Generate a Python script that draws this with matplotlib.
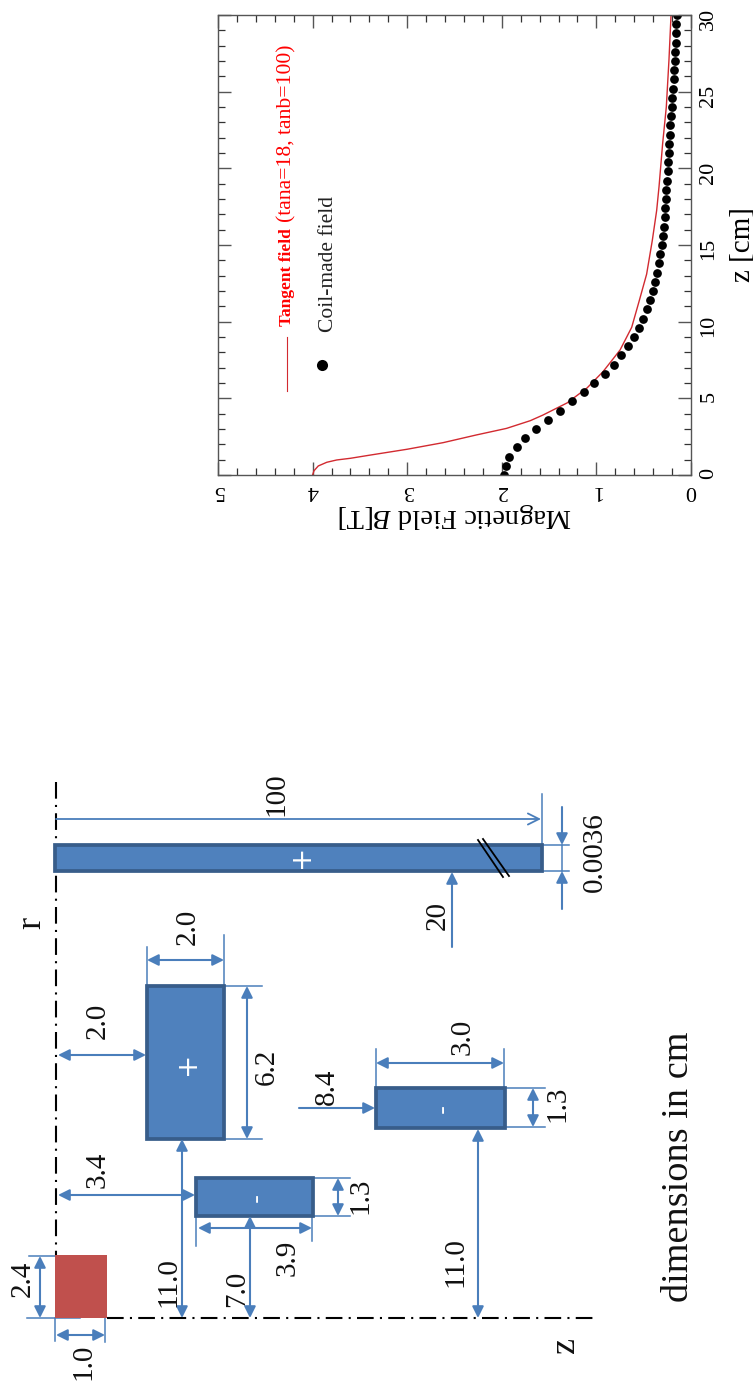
import matplotlib
matplotlib.use('Agg')
import matplotlib.pyplot as plt
from matplotlib.patches import Rectangle

plt.rcParams['font.family'] = ['Liberation Serif', 'DejaVu Serif']
plt.rcParams['mathtext.fontset'] = 'custom'
plt.rcParams['mathtext.it'] = 'Liberation Serif:italic'
plt.rcParams['mathtext.rm'] = 'Liberation Serif'

# field curves
tangent_z = [0, 0.28, 0.59, 0.83, 0.98, 1.09, 1.3, 1.68, 2.11, 2.61, 3.04, 3.54, 3.91, 4.7, 5.67, 6.74, 8.15, 9.63,
             11.3, 13.1, 15.3, 17.25, 18.8, 21.6, 24.0, 27.06, 30]
tangent_b = [4.0, 3.985, 3.94, 3.85, 3.745, 3.6, 3.39, 3.0, 2.62, 2.27, 1.95, 1.70, 1.565, 1.31, 1.10, 0.93, 0.75, 0.627,
             0.55, 0.469, 0.409, 0.363, 0.338, 0.30, 0.261, 0.233, 0.211]
coil_z = [0.0, 0.6, 1.2, 1.8, 2.4, 3.0, 3.6, 4.2, 4.8, 5.4, 6.0, 6.6, 7.2, 7.8, 8.4, 9.0, 9.6,
          10.2, 10.8, 11.4, 12.0, 12.6, 13.2, 13.8, 14.4, 15.0, 15.6, 16.2, 16.8, 17.4, 18.0, 18.6,
          19.2, 19.8, 20.4, 21.0, 21.6, 22.2, 22.8, 23.4, 24.0, 24.6, 25.2, 25.8, 26.4, 27.0, 27.6,
          28.2, 28.8, 29.4, 30.0]
coil_b = [1.98, 1.96, 1.92, 1.84, 1.75, 1.64, 1.51, 1.39, 1.26, 1.13, 1.025, 0.913, 0.817, 0.736, 0.669, 0.606, 0.553,
          0.511, 0.469, 0.433, 0.405, 0.38, 0.359, 0.338, 0.324, 0.31, 0.30, 0.289, 0.278, 0.275, 0.268, 0.261,
          0.254, 0.247, 0.24, 0.236, 0.229, 0.222, 0.218, 0.211, 0.204, 0.197, 0.19, 0.183, 0.18, 0.173, 0.169,
          0.162, 0.159, 0.155, 0.152]
b_ticks = [0, 1, 2, 3, 4, 5]
b_minor = [0.2, 0.4, 0.6, 0.8, 1.2, 1.4, 1.6, 1.8, 2.2, 2.4, 2.6, 2.8, 3.2, 3.4, 3.6, 3.8, 4.2, 4.4, 4.6, 4.8]
z_ticks = [0, 5, 10, 15, 20, 25, 30]
z_minor = [1, 2, 3, 4, 6, 7, 8, 9, 11, 12, 13, 14, 16, 17, 18, 19, 21, 22, 23, 24, 26, 27, 28, 29]

# schematic, in picture pixels (left, top, right, bottom)
coils = [(55, 845, 542, 871), (147, 986, 224, 1139), (196, 1178, 313, 1216), (376, 1088, 505, 1128)]
coil_signs = ['+', '+', '-', '-']
sign_x = [301, 187, 257, 443]
sign_y = [856, 1063, 1197, 1108]
magnet = (55, 1255, 107, 1318)

double_arrows = [(147, 960, 224, 960), (247, 986, 247, 1139), (58, 1055, 146, 1055), (58, 1195, 195, 1195),
                 (338, 1178, 338, 1216), (198, 1228, 312, 1228), (250, 1216, 250, 1318), (182, 1139, 182, 1318),
                 (40, 1256, 40, 1318), (56, 1335, 105, 1335), (376, 1063, 504, 1063), (533, 1088, 533, 1127),
                 (478, 1129, 478, 1318)]
single_arrows = [(452, 947, 452, 872), (299, 1108, 375, 1108), (562, 807, 562, 845), (562, 909, 562, 871)]
open_arrow = (56, 819, 541, 819)
ext_lines = [(542, 794, 542, 845), (542, 845, 569, 845), (542, 871, 569, 871), (562, 845, 562, 871),
             (147, 947, 147, 986), (224, 935, 224, 986), (224, 986, 262, 986), (224, 1139, 262, 1139),
             (313, 1178, 350, 1178), (313, 1216, 350, 1216), (196, 1216, 196, 1246), (312, 1216, 312, 1241),
             (29, 1256, 55, 1256), (27, 1318, 80, 1318), (55, 1318, 55, 1341), (105, 1318, 105, 1342),
             (376, 1049, 376, 1088), (504, 1049, 504, 1088), (505, 1088, 545, 1088), (505, 1127, 545, 1127)]
break_lines = [(478, 840, 503, 877), (483, 839, 509, 876)]
axis_lines = [(56, 782, 56, 1255), (107, 1318, 593, 1318)]
dim_text = ['100', '20', '0.0036', '2.0', '6.2', '2.0', '3.4', '1.3', '3.9', '7.0', '11.0', '2.4', '1.0',
            '3.0', '8.4', '1.3', '11.0']
dim_x = [276, 438, 595, 188, 267, 98, 98, 360, 288, 237, 168, 23, 83, 463, 327, 557, 455]
dim_y = [794, 915, 852, 927, 1067, 1021, 1170, 1196, 1258, 1289, 1282, 1279, 1362, 1037, 1087, 1104, 1262]

fig = plt.figure(figsize=(7.53, 13.81), dpi=100)

# field plot, turned on its side
ax = fig.add_axes([218 / 753, (1381 - 475) / 1381, 473 / 753, 460 / 1381])
ax.plot(tangent_b, tangent_z, color='#d22a30', lw=1.0)
ax.plot(coil_b, coil_z, 'o', color='black', ms=6.3, mew=0)
ax.set_xlim(5, 0)
ax.set_ylim(0, 30)
ax.set_xticks(b_ticks)
ax.set_xticks(b_minor, minor=True)
ax.set_yticks(z_ticks)
ax.set_yticks(z_minor, minor=True)
ax.yaxis.tick_right()
ax.tick_params(which='major', direction='in', length=9.5, width=1, color='#555555', top=True, bottom=True,
               left=True, right=True, labelsize=16)
ax.tick_params(which='minor', direction='in', length=5, width=0.9, color='#333333', top=True, bottom=True,
               left=True, right=True)
ax.tick_params(axis='x', which='major', labelrotation=180, pad=4)
ax.tick_params(axis='y', which='major', labelrotation=90, pad=6)
for s in ax.spines.values():
    s.set_color('#555555')
    s.set_linewidth(1)
ax.set_xlabel(r'Magnetic Field $\mathit{B}$[T]', fontsize=20.5, rotation=180, labelpad=1)
ax.xaxis.get_label().set_position((0.5, 0))
ax.yaxis.set_label_position('right')
ax.set_ylabel('z [cm]', fontsize=21, rotation=90, labelpad=8)

# legend
ax.plot([4.27, 4.27], [5.5, 9.0], color='#d22a30', lw=0.8)
ax.plot([3.9], [7.2], 'o', color='black', ms=8, mew=0)
ax.text(4.27, 9.75, 'Tangent field', color='red', fontsize=12.5, fontweight='bold', rotation=90, ha='center', va='bottom')
ax.text(4.27, 16.5, '(tana=18, tanb=100)', color='red', fontsize=15.6, rotation=90, ha='center', va='bottom')
ax.text(3.83, 9.3, 'Coil-made field', color='#222222', fontsize=15.5, rotation=90, ha='center', va='bottom')

# schematic of the coils
sk = fig.add_axes([0, 0, 1, 631 / 1381])
sk.set_xlim(0, 753)
sk.set_ylim(1381, 750)
sk.axis('off')

blue = '#4a7ebb'
for x1, y1, x2, y2 in axis_lines:
    sk.plot([x1, x2], [y1, y2], color='black', lw=1.5, linestyle=(0, (8, 3, 1, 3)), zorder=1)
for x1, y1, x2, y2 in ext_lines:
    sk.plot([x1, x2], [y1, y2], color=blue, lw=1.1, zorder=2)

sk.add_patch(Rectangle((magnet[0], magnet[1]), magnet[2] - magnet[0], magnet[3] - magnet[1], fc='#c0504d', ec='none', zorder=3))
for c in coils:
    sk.add_patch(Rectangle((c[0], c[1]), c[2] - c[0], c[3] - c[1], fc='#4f81bd', ec='#385d8a', lw=2.7, zorder=3))
for s, x, y in zip(coil_signs, sign_x, sign_y):
    sk.text(x, y, s, color='white', fontsize=20 if s == '+' else 18, ha='center', va='center', rotation=90, zorder=5,
            family='DejaVu Sans')

for x1, y1, x2, y2 in double_arrows:
    sk.annotate('', xy=(x2, y2), xytext=(x1, y1), zorder=4,
                arrowprops=dict(arrowstyle='<|-|>', color=blue, lw=1.5, mutation_scale=17, shrinkA=0, shrinkB=0))
for x1, y1, x2, y2 in single_arrows:
    sk.annotate('', xy=(x2, y2), xytext=(x1, y1), zorder=4,
                arrowprops=dict(arrowstyle='-|>', color=blue, lw=1.5, mutation_scale=17, shrinkA=0, shrinkB=0))
sk.annotate('', xy=(open_arrow[2], open_arrow[3]), xytext=(open_arrow[0], open_arrow[1]),
            arrowprops=dict(arrowstyle='->', color=blue, lw=1.3, mutation_scale=20, shrinkA=0, shrinkB=0))
for x1, y1, x2, y2 in break_lines:
    sk.plot([x1, x2], [y1, y2], color='black', lw=1.3, zorder=5)

for t, x, y in zip(dim_text, dim_x, dim_y):
    sk.text(x, y, t, fontsize=21, rotation=90, ha='center', va='center', color='#111111', zorder=6)
sk.text(32, 923, 'r', fontsize=26, rotation=90, ha='center', va='center', color='#111111')
sk.text(566, 1345, 'z', fontsize=26, rotation=90, ha='center', va='center', color='#111111')
sk.text(679, 1167, 'dimensions in cm', fontsize=27.5, rotation=90, ha='center', va='center', color='#111111')

plt.savefig('out.png', dpi=100)
